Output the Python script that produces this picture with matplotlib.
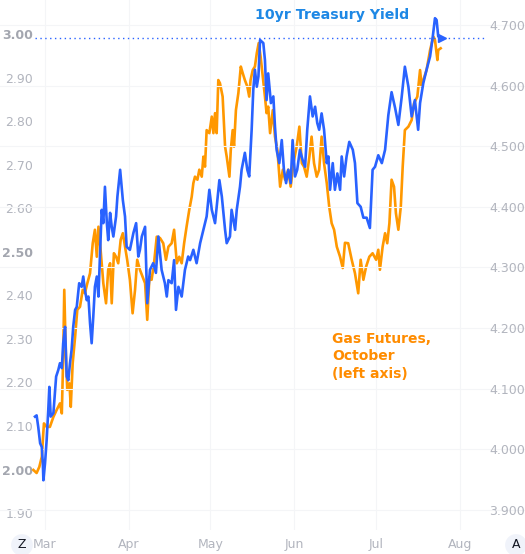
import pandas as pd
import matplotlib.pyplot as plt
import matplotlib.dates as mdates

start = pd.Timestamp("2024-03-01")

# 10yr Treasury yield (right axis) - days counted from Mar 1
tsy_days = [-3.7, -3.1, -2.5, -1.8, -1.2, -0.8, -0.6, 0.0, 0.6, 1.2, 1.6, 2.1, 3.1, 4.1, 4.9, 5.5,
             6.2, 6.7, 7.4, 8.0, 8.6, 9.2, 9.8, 10.4, 11.1, 11.7, 12.6, 13.5, 14.1, 14.7, 15.4, 16.0,
             16.6, 17.2, 17.8, 18.4, 19.1, 19.7, 20.3, 20.9, 21.5, 22.1, 22.8, 23.3, 24.0, 24.6, 25.2,
             26.2, 26.7, 27.7, 28.7, 29.5, 30.1, 31.3, 32.6, 33.6, 34.4, 35.0, 35.7, 36.9, 37.7, 38.7,
             39.9, 40.9, 41.8, 43.0, 44.2, 44.9, 45.5, 46.7, 47.6, 48.3, 49.2, 50.4, 51.6, 52.8, 53.5,
             54.7, 55.9, 57.2, 58.4, 59.6, 60.6, 61.5, 62.7, 64.3, 65.2, 66.4, 67.0, 68.2, 68.8, 70.1,
             70.7, 71.9, 72.5, 73.7, 74.6, 75.3, 76.2, 76.8, 77.4, 78.1, 78.7, 79.3, 80.5, 81.1, 81.7,
             82.3, 83.3, 84.2, 84.8, 85.4, 86.4, 87.3, 88.1, 88.9, 89.7, 90.6, 91.3, 92.2, 93.0, 94.0,
             95.0, 95.9, 96.7, 97.7, 98.7, 99.6, 100.4, 101.1, 102.0, 102.9, 103.9, 104.5, 105.1, 106.1,
             106.9, 107.8, 108.8, 109.4, 110.3, 111.2, 112.2, 113.5, 114.3, 115.2, 116.4, 117.4, 118.6,
             119.8, 120.8, 121.7, 122.9, 124.2, 125.4, 126.6, 127.8, 129.1, 130.3, 131.5, 132.7, 134.0,
             135.2, 136.4, 137.6, 138.3, 139.5, 140.7, 142.0, 143.0, 143.8, 144.4, 145.0, 146.3]
tsy_vals = [4.054, 4.056, 4.037, 4.010, 4.004, 3.977, 3.949, 3.977, 4.015, 4.065, 4.103, 4.054, 4.060,
            4.120, 4.131, 4.142, 4.134, 4.175, 4.202, 4.120, 4.114, 4.142, 4.164, 4.202, 4.230, 4.235,
            4.274, 4.268, 4.285, 4.263, 4.246, 4.252, 4.208, 4.175, 4.219, 4.268, 4.285, 4.252, 4.324,
            4.395, 4.373, 4.433, 4.373, 4.345, 4.390, 4.367, 4.351, 4.384, 4.417, 4.461, 4.411, 4.384,
            4.334, 4.329, 4.357, 4.373, 4.318, 4.329, 4.351, 4.367, 4.241, 4.296, 4.307, 4.291, 4.351,
            4.296, 4.274, 4.252, 4.279, 4.274, 4.312, 4.230, 4.268, 4.252, 4.296, 4.318, 4.312, 4.329,
            4.307, 4.340, 4.362, 4.384, 4.428, 4.395, 4.373, 4.444, 4.417, 4.362, 4.340, 4.351, 4.395,
            4.362, 4.395, 4.433, 4.461, 4.489, 4.461, 4.450, 4.527, 4.593, 4.626, 4.598, 4.615, 4.675,
            4.670, 4.642, 4.576, 4.620, 4.571, 4.582, 4.532, 4.494, 4.472, 4.510, 4.461, 4.439, 4.461,
            4.439, 4.510, 4.450, 4.461, 4.494, 4.477, 4.466, 4.527, 4.582, 4.549, 4.565, 4.538, 4.527,
            4.554, 4.527, 4.472, 4.483, 4.428, 4.472, 4.428, 4.455, 4.428, 4.483, 4.450, 4.483, 4.507,
            4.494, 4.472, 4.406, 4.400, 4.382, 4.382, 4.365, 4.461, 4.466, 4.485, 4.472, 4.494, 4.551,
            4.589, 4.563, 4.535, 4.580, 4.631, 4.598, 4.549, 4.576, 4.527, 4.571, 4.604, 4.626, 4.648,
            4.681, 4.711, 4.708, 4.681, 4.678]

# Gas futures, October (left axis)
gas_days = [-4.3, -3.1, -2.1, -1.2, -0.4, 0.6, 1.8, 3.1, 4.3, 5.5, 6.2, 6.7, 7.1, 7.7, 8.2, 9.0, 9.5,
            10.2, 11.1, 11.9, 12.9, 13.9, 14.7, 15.6, 16.6, 17.6, 18.4, 19.1, 19.7, 20.5, 21.5, 22.5,
            23.3, 24.0, 24.6, 25.4, 26.2, 27.0, 27.9, 28.7, 29.5, 30.3, 31.3, 32.3, 33.2, 34.0, 35.0,
            36.0, 36.9, 37.7, 38.5, 39.3, 40.2, 41.2, 42.4, 43.6, 44.6, 45.5, 46.7, 47.6, 48.6, 49.5,
            50.4, 51.3, 52.2, 53.2, 54.1, 54.7, 55.3, 56.2, 56.9, 57.8, 58.4, 59.0, 59.6, 60.6, 61.5,
            62.1, 62.7, 63.3, 63.9, 64.5, 65.5, 66.4, 67.0, 68.0, 68.5, 69.2, 69.7, 70.4, 71.3, 72.2,
            72.9, 73.7, 74.6, 75.3, 75.8, 76.6, 77.4, 78.1, 78.8, 79.5, 80.3, 81.1, 81.7, 82.3, 83.0,
            84.0, 84.8, 85.7, 86.7, 87.7, 88.5, 89.7, 90.6, 91.6, 92.8, 93.8, 94.7, 95.5, 96.5, 97.5,
            98.3, 99.2, 100.2, 101.1, 102.0, 102.9, 103.9, 104.8, 105.7, 106.6, 107.6, 108.8, 109.8,
            110.6, 111.8, 113.1, 114.3, 114.9, 115.5, 116.4, 117.4, 118.4, 119.6, 120.8, 122.1, 122.9,
            123.5, 124.5, 125.4, 126.2, 127.0, 127.8, 128.7, 129.4, 130.3, 131.2, 131.9, 132.7, 134.0,
            135.2, 136.1, 137.3, 138.3, 138.9, 139.5, 140.7, 142.0, 143.2, 143.8, 144.7, 145.0, 145.9]
gas_vals = [1.999, 1.992, 2.006, 2.029, 2.106, 2.098, 2.098, 2.121, 2.137, 2.152, 2.129, 2.259, 2.413,
            2.259, 2.183, 2.198, 2.144, 2.244, 2.305, 2.367, 2.374, 2.413, 2.405, 2.428, 2.451, 2.520,
            2.551, 2.489, 2.558, 2.505, 2.428, 2.382, 2.459, 2.474, 2.382, 2.497, 2.489, 2.474, 2.528,
            2.543, 2.512, 2.482, 2.436, 2.359, 2.413, 2.482, 2.459, 2.443, 2.428, 2.344, 2.443, 2.436,
            2.474, 2.535, 2.532, 2.520, 2.482, 2.512, 2.520, 2.551, 2.474, 2.489, 2.474, 2.520, 2.558,
            2.597, 2.627, 2.658, 2.673, 2.666, 2.689, 2.673, 2.719, 2.696, 2.780, 2.773, 2.811, 2.773,
            2.819, 2.773, 2.895, 2.888, 2.857, 2.742, 2.719, 2.673, 2.734, 2.780, 2.742, 2.826, 2.865,
            2.926, 2.911, 2.895, 2.880, 2.857, 2.895, 2.918, 2.926, 2.957, 2.980, 2.949, 2.903, 2.857,
            2.819, 2.834, 2.773, 2.826, 2.765, 2.734, 2.650, 2.689, 2.666, 2.689, 2.650, 2.704, 2.742,
            2.788, 2.704, 2.696, 2.673, 2.719, 2.765, 2.704, 2.673, 2.689, 2.765, 2.704, 2.658, 2.604,
            2.566, 2.551, 2.512, 2.489, 2.463, 2.521, 2.520, 2.482, 2.451, 2.428, 2.405, 2.482, 2.436,
            2.466, 2.489, 2.497, 2.482, 2.505, 2.459, 2.512, 2.543, 2.520, 2.566, 2.666, 2.650, 2.589,
            2.551, 2.604, 2.696, 2.780, 2.788, 2.803, 2.842, 2.857, 2.918, 2.880, 2.895, 2.918, 2.964,
            2.995, 2.987, 2.941, 2.964, 2.968]

left_ticks = [1.90, 2.00, 2.10, 2.20, 2.30, 2.40, 2.50, 2.60, 2.70, 2.80, 2.90, 3.00]
right_ticks = [3.9, 4.0, 4.1, 4.2, 4.3, 4.4, 4.5, 4.6, 4.7]

BLUE = "#2962ff"
ORANGE = "#ff9800"
GRAY = "#b2b5be"

tsy_dates = start + pd.to_timedelta(tsy_days, unit="D")
gas_dates = start + pd.to_timedelta(gas_days, unit="D")

fig = plt.figure(figsize=(5.25, 5.54), dpi=100)
ax = fig.add_axes([0, 24 / 554, 1, 530 / 554])
ax2 = ax.twinx()

ax.plot(gas_dates, gas_vals, color=ORANGE, lw=1.9, solid_joinstyle="round")
ax2.plot(tsy_dates, tsy_vals, color=BLUE, lw=1.9, solid_joinstyle="round")
ax2.plot(tsy_dates[-1:], tsy_vals[-1:], marker=">", ms=6, color=BLUE, ls="none")
ax2.axhline(tsy_vals[-1], xmin=35 / 525, xmax=485 / 525, color=BLUE, lw=1, ls=(0, (1, 2.5)))

ax.set_xlim(start - pd.Timedelta(days=16.6), start + pd.Timedelta(days=177))
ax.set_ylim(1.861, 3.079)
ax2.set_ylim(3.867, 4.741)

ax.xaxis.set_major_locator(mdates.MonthLocator())
ax.xaxis.set_major_formatter(mdates.DateFormatter("%b"))
ax.tick_params(axis="x", length=0, pad=6, labelsize=9, labelcolor=GRAY)
ax.grid(axis="x", color="#f4f5f7", lw=0.8)

ax.set_yticks(left_ticks)
ax.set_yticklabels([f"{v:.2f}" for v in left_ticks])
ax.tick_params(axis="y", length=0, pad=-23.8, labelsize=9, labelcolor=GRAY)
for lab, v in zip(ax.get_yticklabels(), left_ticks):
    if round(v * 100) % 50 == 0:
        lab.set_fontweight("bold")
        lab.set_color("#a3a6af")

ax2.set_yticks(right_ticks)
ax2.set_yticklabels([f"{v:.3f}" for v in right_ticks])
ax2.tick_params(axis="y", length=0, pad=-26, labelsize=9, labelcolor=GRAY)
ax2.grid(axis="y", color="#f4f5f7", lw=0.8)

for a in (ax, ax2):
    for s in a.spines.values():
        s.set_visible(False)

ax.text(255 / 525, 1 - 15 / 530, "10yr Treasury Yield", transform=ax.transAxes,
        color="#1e88e5", fontsize=10.2, fontweight="bold", va="center", ha="left")
ax.text(332 / 525, 1 - 332 / 530, "Gas Futures,\nOctober\n(left axis)", transform=ax.transAxes,
        color="#ff8c00", fontsize=10, fontweight="bold", va="top", ha="left", linespacing=1.3)

fig.text(22 / 525, 1 - 545 / 554, "Z", color="#131722", fontsize=9, ha="center", va="center",
         bbox=dict(boxstyle="circle,pad=0.35", fc="#f0f3fa", ec="none"))
fig.text(516 / 525, 1 - 545 / 554, "A", color="#131722", fontsize=9, ha="center", va="center",
         bbox=dict(boxstyle="circle,pad=0.35", fc="#f0f3fa", ec="none"))

fig.savefig("out.png", dpi=100)
